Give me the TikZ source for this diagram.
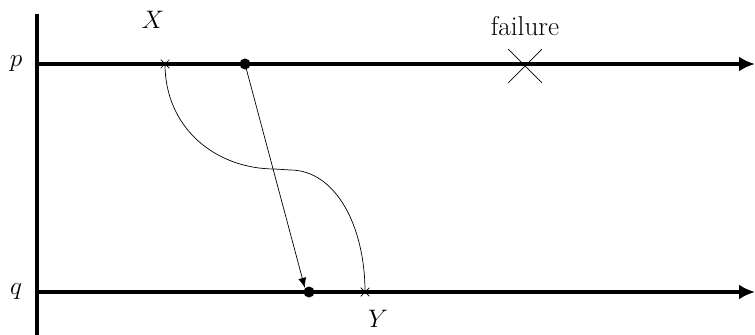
\documentclass[tikz,border=0pt]{standalone}
\usetikzlibrary{positioning,arrows.meta,shapes.misc}

\begin{document}
\begin{tikzpicture}[every node/.style={font=\fontsize{15.5}{18}\selectfont},
    proc/.style={line width=2pt,-{Latex[length=3.2mm,width=3mm]}},
    msg/.style={thin,-{Latex[length=2mm,width=1.6mm]}},
    evt/.style={circle,fill,inner sep=0pt,minimum size=2.2mm},
    ckpt/.style={cross out,draw,thin,inner sep=0pt,minimum size=1.6mm},
    crash/.style={cross out,draw,thin,inner sep=0pt,minimum size=6.6mm}]
    \useasboundingbox (0,0) rectangle (15.1,-6.7);
    % process axes
    \draw[line width=2pt] (0.74,-0.28) -- (0.74,-6.7);
    \coordinate (pend) at (15.1,-1.28);
    \coordinate (qend) at (15.1,-5.84);
    \node (p) at (0.32,-1.28) {$p$};
    \node (q) at (0.32,-5.84) {$q$};
    \draw[proc] (0.74,-1.28) -- (pend);
    \draw[proc] (0.74,-5.84) -- (qend);
    % events
    \node[ckpt] (xev) at (3.3,-1.28) {};
    \node[evt] (send) at (4.9,-1.28) {};
    \node[evt] (recv) at (6.18,-5.84) {};
    \node[ckpt] (yev) at (7.3,-5.84) {};
    \node[crash] (fail) at (10.5,-1.32) {};
    \node (xlab) at (3.06,-0.4) {$X$};
    \node (ylab) at (7.56,-6.38) {$Y$};
    \node (flab) at (10.5,-0.52) {failure};
    \coordinate (mida) at (5.5,-3.38);
    \coordinate (midb) at (5.8,-3.4);
    % message and dependency
    \draw[msg] (send.center) -- (recv.north west);
    \draw[thin] (xev.center) .. controls (3.3,-2.55) and (4.3,-3.38) .. (mida)
      -- (midb) .. controls (6.7,-3.4) and (7.3,-4.5) .. (yev.center);
\end{tikzpicture}
\end{document}
